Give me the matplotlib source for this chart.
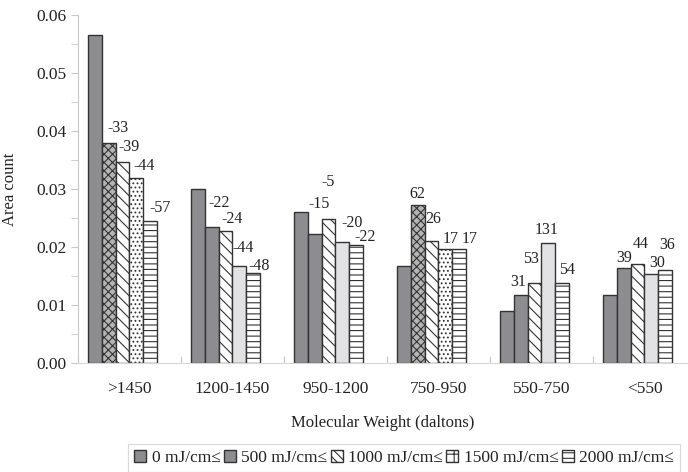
import numpy as np
import matplotlib.pyplot as plt
from matplotlib.patches import Patch

# Molecular weight bins and UV dose series
categories = ['>1450', '1200-1450', '950-1200', '750-950', '550-750', '<550']
series_names = ['0 mJ/cm\u2264', '500 mJ/cm\u2264', '1000 mJ/cm\u2264',
                '1500 mJ/cm\u2264', '2000 mJ/cm\u2264']

dose_0 = [0.0566, 0.0300, 0.0260, 0.0167, 0.0090, 0.0117]
dose_500 = [0.0379, 0.0234, 0.0222, 0.0272, 0.0117, 0.0164]
dose_1000 = [0.0347, 0.0228, 0.0248, 0.0210, 0.0138, 0.0171]
dose_1500 = [0.0319, 0.0167, 0.0208, 0.0196, 0.0207, 0.0153]
dose_2000 = [0.0245, 0.0155, 0.0203, 0.0196, 0.0138, 0.0160]

# percent change versus 0 mJ/cm2 (one row per dose, one entry per bin)
pct_500 = ['-33', '-22', '-15', '62', '31', '39']
pct_1000 = ['-39', '-24', '-5', '26', '53', '44']
pct_1500 = ['-44', '-44', '-20', '17', '131', '30']
pct_2000 = ['-57', '-48', '-22', '17', '54', '36']

values = [dose_0, dose_500, dose_1000, dose_1500, dose_2000]
labels = [None, pct_500, pct_1000, pct_1500, pct_2000]

# label offsets in pixels (dx, dy) from each bar's top centre
label_offsets = [
    None,
    [(9, 15), (7, 24), (4, 30), (0, 11), (-3, 13), (0, 10)],
    [(7, 15), (7, 12), (0, 37), (2, 22), (-3, 24), (3, 20)],
    [(8, 12), (4, 18), (10, 19), (5, 10), (-2, 13), (6, 11)],
    [(10, 13), (6, 7), (9, 8), (11, 10), (5, 13), (2, 25)],
]

dark = '#8d8d91'
light = '#e2e2e4'
edge = '#333333'
text_col = '#222222'

plt.rcParams['font.family'] = ['Liberation Serif', 'DejaVu Serif']
plt.rcParams['hatch.color'] = edge
plt.rcParams['hatch.linewidth'] = 0.8


def bar_style(s, g):
    # the first and fourth bins use patterned fills for two of the doses
    patterned = g in (0, 3)
    if s == 0:
        return dark, None
    if s == 1:
        return ('#b4b4b4', 'xxxx') if patterned else (dark, None)
    if s == 2:
        return 'white', '\\\\\\'
    if s == 3:
        return ('white', '....') if patterned else (light, None)
    return 'white', '---'


fig = plt.figure(figsize=(6.88, 4.72), dpi=100)
ax = fig.add_axes([78 / 688, 109 / 472, 618 / 688, 348 / 472])

x = np.arange(len(categories))
width = 0.133
shift = -0.068

for s, vals in enumerate(values):
    pos = x + shift + (s - 2) * width
    for g in range(len(categories)):
        fc, hatch = bar_style(s, g)
        ax.bar(pos[g], vals[g], width, color=fc, edgecolor=edge,
               linewidth=1.0, hatch=hatch, zorder=2)
        if labels[s] is not None:
            dx, dy = label_offsets[s][g]
            ax.annotate(labels[s][g], (pos[g], vals[g]), xytext=(dx, dy),
                        textcoords='offset pixels', ha='center', va='center',
                        fontsize=11.5, color=text_col)

ax.set_xlim(-0.5, 5.5)
ax.set_ylim(0, 0.06)
ax.set_yticks(np.arange(0, 0.061, 0.01))
ax.set_yticks(np.arange(0.005, 0.06, 0.01), minor=True)
ax.yaxis.set_major_formatter(plt.FormatStrFormatter('%.2f'))
ax.set_xticks(np.arange(-0.5, 5.6, 1.0))
ax.set_xticks(x, minor=True)
ax.set_xticklabels([])
ax.set_xticklabels(categories, minor=True)
ax.tick_params(axis='x', which='major', length=5, direction='in', color='#c8c8c8')
ax.tick_params(axis='x', which='minor', length=0, pad=13, labelsize=12.5,
               labelcolor=text_col)
ax.tick_params(axis='y', which='both', length=5, color='#c8c8c8',
               labelsize=12.5, labelcolor=text_col, pad=3)

for side in ('top', 'right'):
    ax.spines[side].set_visible(False)
ax.spines['left'].set_color('#c8c8c8')
ax.spines['bottom'].set_color('#d8d8d8')

ax.set_ylabel('Area count', fontsize=12, color=text_col, labelpad=8)
ax.yaxis.set_label_coords(-60 / 618, 0.5)
ax.set_xlabel('Molecular Weight (daltons)', fontsize=12, color=text_col)
ax.xaxis.set_label_coords(305 / 618, -52 / 348)

handles = []
for s, name in enumerate(series_names):
    fc, hatch = bar_style(s, 0 if s == 3 else 1)
    if s == 2:
        hatch = '\\\\\\\\'
    if s == 3:
        hatch = '++'
    handles.append(Patch(facecolor=fc, edgecolor=edge, hatch=hatch, label=name))

leg = fig.legend(handles=handles, loc='center', ncol=5,
                 bbox_to_anchor=(404 / 688, 1 - 458 / 472),
                 fontsize=12.5, frameon=True, fancybox=False,
                 handlelength=0.7, handleheight=0.7, handletextpad=0.3,
                 columnspacing=0.2, borderpad=0.35, labelcolor=text_col)
leg.get_frame().set_edgecolor('#d0d0d0')
leg.get_frame().set_linewidth(0.8)

fig.savefig('out.png', dpi=100)
